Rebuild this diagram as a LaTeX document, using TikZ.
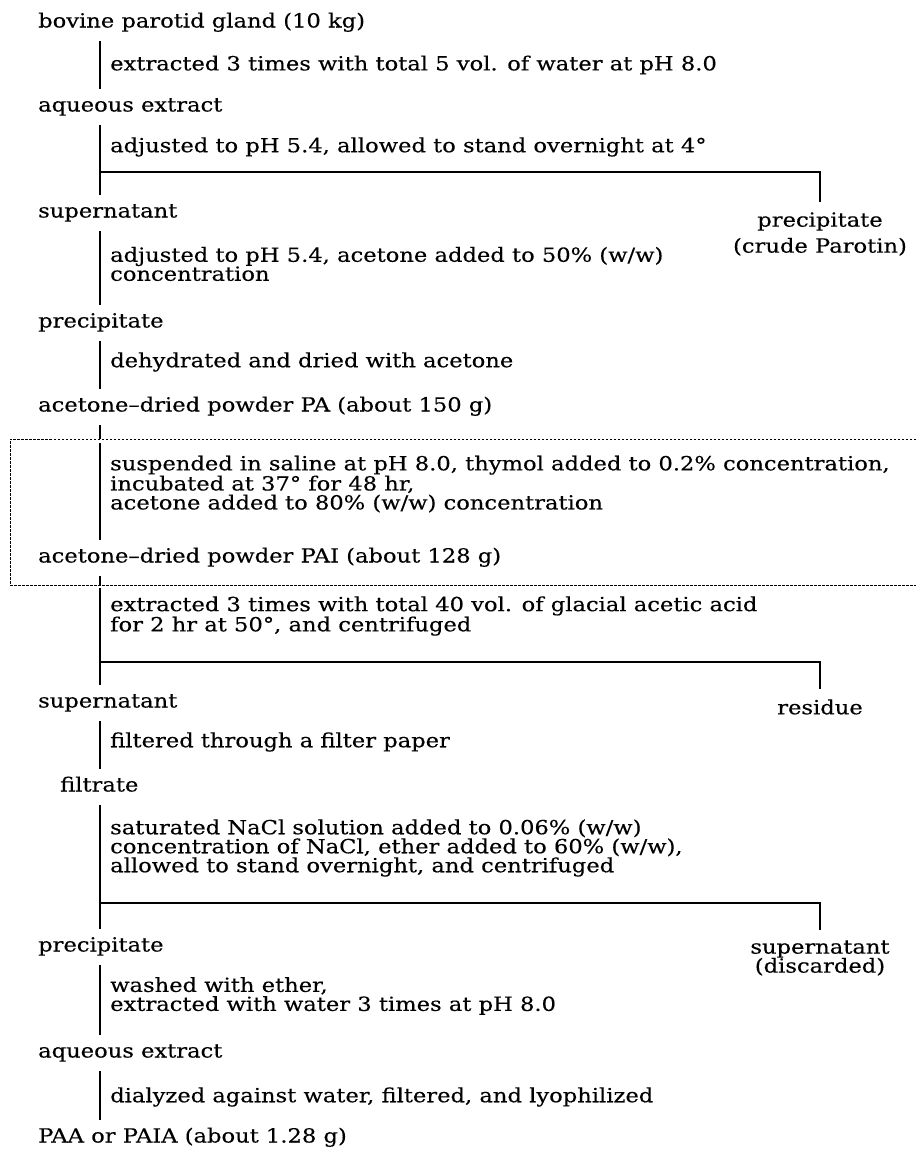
\documentclass[tikz,border=0pt]{standalone}
\usepackage{fontspec}
\setmainfont{DejaVu Serif}[FakeStretch=1.16, FakeBold=0.3]

\begin{document}
\begin{tikzpicture}[x=1pt, y=-1pt, font=\fontsize{19.5}{19}\selectfont]

    % styles for the stages, the treatments and the side products
    \tikzstyle{stage} = [anchor=west, inner xsep=0pt, inner ysep=8.5pt,
                         text height=14pt, text depth=5pt]
    \tikzstyle{treat} = [anchor=west, inner xsep=10pt, inner ysep=0pt, align=left]
    \tikzstyle{side} = [inner ysep=10pt, align=center]
    \tikzstyle{flow} = [line width=1.1pt]
    \tikzstyle{frame} = [line width=0.7pt, dash pattern=on 2.5pt off 1.5pt]

    \useasboundingbox (0,0) rectangle (916,1149);

    % gland and first extraction
    \node[stage] (bovine) at (38,23) {bovine parotid gland (10 kg)};
    \node[treat] (ext1) at (100,65) {extracted 3 times with total 5 vol. of water at pH 8.0};
    \node[stage] (aq1) at (38,107) {aqueous extract};

    % first separation
    \node[treat] (adj1) at (100,147) {adjusted to pH 5.4, allowed to stand overnight at 4°};
    \node[stage] (sup1) at (38,213) {supernatant};
    \node[side] (crude) at (820,234) {precipitate\\[7pt](crude Parotin)};

    % acetone precipitation
    \node[treat] (adj2) at (100,264) {adjusted to pH 5.4, acetone added to 50\% (w/w)\\concentration};
    \node[stage] (ppt1) at (38,323) {precipitate};
    \node[treat] (dehyd) at (100,362) {dehydrated and dried with acetone};
    \node[stage] (pa) at (38,407) {acetone–dried powder PA (about 150 g)};

    % incubation step (framed)
    \node[treat] (incub) at (100,484) {suspended in saline at pH 8.0, thymol added to 0.2\% concentration,\\incubated at 37° for 48 hr,\\acetone added to 80\% (w/w) concentration};
    \node[stage] (pai) at (38,558) {acetone–dried powder PAI (about 128 g)};

    % acetic acid extraction
    \node[treat] (ext2) at (100,616) {extracted 3 times with total 40 vol. of glacial acetic acid\\for 2 hr at 50°, and centrifuged};
    \node[stage] (sup2) at (38,703) {supernatant};
    \node[side] (residue) at (820,707) {residue};
    \node[treat] (filt) at (100,742) {filtered through a filter paper};
    \node[stage] (filtrate) at (60,787) {filtrate};

    % ether precipitation
    \node[treat] (nacl) at (100,848) {saturated NaCl solution added to 0.06\% (w/w)\\concentration of NaCl, ether added to 60\% (w/w),\\allowed to stand overnight, and centrifuged};
    \node[stage] (ppt2) at (38,947) {precipitate};
    \node[side] (sup3) at (820,958) {supernatant\\(discarded)};

    % final product
    \node[treat] (wash) at (100,996) {washed with ether,\\extracted with water 3 times at pH 8.0};
    \node[stage] (aq2) at (38,1053) {aqueous extract};
    \node[treat] (dial) at (100,1097) {dialyzed against water, filtered, and lyophilized};
    \node[stage] (paa) at (38,1138) {PAA or PAIA (about 1.28 g)};

    % junctions
    \coordinate (split1) at (100,172);
    \coordinate (split2) at (100,662);
    \coordinate (split3) at (100,903);
    \coordinate (boxtop) at (10,439);
    \coordinate (boxbot) at (10,585);
    \coordinate (gap1) at (100,443);
    \coordinate (gap2) at (100,588);

    % frame round the incubation
    \draw[frame] (916,439) -- (boxtop) -- (boxbot) -- (916,585);

    % flow lines
    \draw[flow] (bovine.south -| ext1.west) -- (aq1.north -| ext1.west);
    \draw[flow] (aq1.south -| adj1.west) -- (sup1.north -| adj1.west);
    \draw[flow] (split1) -| (crude.north);
    \draw[flow] (sup1.south -| adj2.west) -- (ppt1.north -| adj2.west);
    \draw[flow] (ppt1.south -| dehyd.west) -- (pa.north -| dehyd.west);
    \draw[flow] (pa.south -| incub.west) -- (boxtop -| incub.west);
    \draw[flow] (gap1) -- (pai.north -| incub.west);
    \draw[flow] (pai.south -| ext2.west) -- (boxbot -| ext2.west);
    \draw[flow] (gap2) -- (sup2.north -| ext2.west);
    \draw[flow] (split2) -| (residue.north);
    \draw[flow] (sup2.south -| filt.west) -- (filtrate.north -| filt.west);
    \draw[flow] (filtrate.south -| nacl.west) -- (ppt2.north -| nacl.west);
    \draw[flow] (split3) -| (sup3.north);
    \draw[flow] (ppt2.south -| wash.west) -- (aq2.north -| wash.west);
    \draw[flow] (aq2.south -| dial.west) -- (paa.north -| dial.west);

\end{tikzpicture}
\end{document}
